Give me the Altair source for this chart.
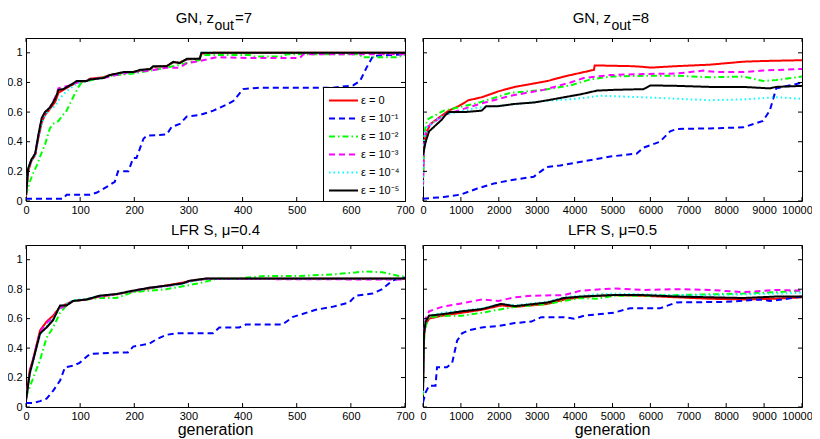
import altair as alt
import pandas as pd

FONT = "Liberation Sans"
LABELS = ["ε = 0", "ε = 10⁻¹", "ε = 10⁻²", "ε = 10⁻³", "ε = 10⁻⁴", "ε = 10⁻⁵"]
COLORS = ["#ff0000", "#0000ff", "#00ff00", "#ff00ff", "#00ffff", "#000000"]
DASHES = [[1, 0], [6, 4], [6, 3, 1.5, 3], [6, 4], [1.5, 3], [1, 0]]

XTICKS_700 = [0, 100, 200, 300, 400, 500, 600, 700]
XTICKS_10K = [0, 1000, 2000, 3000, 4000, 5000, 6000, 7000, 8000, 9000, 10000]
YTICKS = [0, 0.2, 0.4, 0.6, 0.8, 1]

# ---- Panel 1: GN, z_out=7 ----
gn7_x_main = [0, 4, 10, 17, 23, 29, 35, 44, 54, 60, 69, 81, 94, 112, 118, 143, 155, 180, 198, 211, 229, 235, 260, 272, 284, 297, 321, 324, 346, 700]
gn7_black = [0.04, 0.22, 0.28, 0.32, 0.45, 0.56, 0.60, 0.63, 0.69, 0.75, 0.755, 0.78, 0.81, 0.81, 0.82, 0.83, 0.85, 0.87, 0.87, 0.885, 0.89, 0.91, 0.91, 0.94, 0.93, 0.96, 0.96, 1.0, 1.0, 1.0]
gn7_red = [0.03, 0.2, 0.27, 0.31, 0.43, 0.53, 0.58, 0.62, 0.67, 0.73, 0.75, 0.775, 0.80, 0.81, 0.825, 0.835, 0.85, 0.865, 0.87, 0.88, 0.89, 0.905, 0.91, 0.935, 0.935, 0.955, 0.96, 0.995, 1.0, 1.0]
gn7_cyan = [0.04, 0.21, 0.27, 0.31, 0.43, 0.52, 0.58, 0.62, 0.64, 0.68, 0.72, 0.76, 0.79, 0.81, 0.82, 0.83, 0.85, 0.865, 0.87, 0.88, 0.89, 0.905, 0.91, 0.935, 0.935, 0.955, 0.96, 1.0, 1.0, 1.0]
gn7_mag_x = [0, 4, 10, 17, 23, 29, 35, 44, 54, 60, 69, 81, 94, 112, 118, 143, 155, 180, 198, 211, 229, 260, 284, 297, 321, 352, 413, 506, 512, 700]
gn7_mag = [0.04, 0.21, 0.28, 0.32, 0.44, 0.55, 0.60, 0.63, 0.70, 0.76, 0.77, 0.78, 0.80, 0.81, 0.82, 0.83, 0.84, 0.86, 0.87, 0.875, 0.88, 0.90, 0.90, 0.93, 0.945, 0.97, 0.965, 0.965, 0.99, 0.99]
gn7_green_x = [0, 7, 13.5, 20, 26, 35, 44, 50, 60, 66, 75, 87, 97, 103, 137, 167, 198, 229, 260, 284, 321, 324, 413, 420, 475, 481, 617, 620, 685, 700]
gn7_green = [0.04, 0.13, 0.19, 0.24, 0.30, 0.38, 0.49, 0.52, 0.54, 0.57, 0.61, 0.70, 0.77, 0.80, 0.83, 0.85, 0.86, 0.88, 0.90, 0.92, 0.95, 0.985, 0.985, 0.975, 0.975, 0.99, 0.99, 0.97, 0.97, 0.985]
gn7_blue_x = [0, 69, 75, 118, 131, 149, 164, 170, 189, 198, 204, 217, 223, 260, 269, 284, 297, 321, 346, 370, 383, 401, 432, 567, 604, 617, 629, 641, 700]
gn7_blue = [0.016, 0.016, 0.043, 0.043, 0.057, 0.095, 0.13, 0.2, 0.2, 0.29, 0.29, 0.42, 0.44, 0.45, 0.50, 0.52, 0.57, 0.58, 0.61, 0.65, 0.675, 0.755, 0.765, 0.765, 0.78, 0.81, 0.90, 0.98, 0.99]

# ---- Panel 2: GN, z_out=8 ----
gn8_red_x = [0, 30, 100, 200, 460, 680, 940, 1200, 1550, 1990, 2420, 2860, 3290, 3720, 4160, 4510, 4530, 5500, 5820, 6000, 6690, 7570, 8450, 9000, 10000]
gn8_red = [0.15, 0.40, 0.47, 0.52, 0.57, 0.61, 0.64, 0.68, 0.70, 0.74, 0.77, 0.79, 0.81, 0.84, 0.865, 0.885, 0.915, 0.91, 0.905, 0.90, 0.91, 0.92, 0.94, 0.945, 0.95]
gn8_mag_x = [0, 30, 110, 550, 1430, 2300, 3180, 3890, 4240, 4940, 5820, 6690, 7400, 7750, 8450, 8970, 9850, 10000]
gn8_mag = [0.1, 0.42, 0.50, 0.58, 0.65, 0.71, 0.75, 0.80, 0.83, 0.85, 0.857, 0.86, 0.88, 0.87, 0.87, 0.88, 0.89, 0.89]
gn8_green_x = [0, 30, 110, 550, 1430, 2300, 3180, 3890, 4410, 4940, 5820, 6690, 7570, 8450, 8970, 9320, 10000]
gn8_green = [0.1, 0.45, 0.55, 0.61, 0.66, 0.73, 0.75, 0.78, 0.82, 0.84, 0.845, 0.845, 0.835, 0.84, 0.81, 0.816, 0.84]
gn8_cyan_x = [0, 30, 110, 550, 1430, 2300, 3180, 4060, 4680, 5820, 7570, 8450, 9320, 10000]
gn8_cyan = [0.1, 0.42, 0.5, 0.58, 0.63, 0.65, 0.675, 0.69, 0.71, 0.70, 0.68, 0.686, 0.70, 0.69]
gn8_black_x = [0, 70, 160, 330, 500, 590, 680, 1110, 1550, 1670, 1990, 2420, 2940, 3290, 3720, 4160, 4590, 5030, 5820, 6000, 6690, 7570, 8450, 9150, 9320, 10000]
gn8_black = [0.31, 0.40, 0.47, 0.51, 0.55, 0.58, 0.60, 0.60, 0.61, 0.64, 0.64, 0.655, 0.665, 0.68, 0.70, 0.72, 0.745, 0.75, 0.755, 0.78, 0.777, 0.77, 0.77, 0.76, 0.77, 0.777]
gn8_blue_x = [0, 550, 990, 1430, 1870, 2300, 2920, 3100, 3270, 3620, 4060, 4940, 5640, 5820, 6250, 6520, 6690, 7570, 8450, 8970, 9150, 9320, 9850, 10000]
gn8_blue = [0.016, 0.027, 0.043, 0.084, 0.118, 0.14, 0.164, 0.198, 0.23, 0.24, 0.26, 0.30, 0.32, 0.36, 0.40, 0.47, 0.486, 0.49, 0.497, 0.54, 0.61, 0.76, 0.79, 0.80]

# ---- Panel 3: LFR S, mu=0.4 ----
lfr4_x_main = [0, 7, 13.5, 26, 38, 50, 63, 75, 87, 112, 136, 167, 198, 228, 259, 290, 302, 333, 700]
lfr4_black = [0.045, 0.23, 0.32, 0.50, 0.54, 0.59, 0.69, 0.69, 0.72, 0.73, 0.756, 0.767, 0.79, 0.81, 0.824, 0.84, 0.857, 0.873, 0.873]
lfr4_red = [0.05, 0.25, 0.33, 0.52, 0.58, 0.62, 0.68, 0.70, 0.72, 0.73, 0.75, 0.765, 0.785, 0.805, 0.825, 0.845, 0.855, 0.87, 0.87]
lfr4_mag = [0.05, 0.24, 0.33, 0.51, 0.57, 0.61, 0.67, 0.69, 0.72, 0.73, 0.75, 0.765, 0.79, 0.81, 0.82, 0.84, 0.855, 0.87, 0.865]
lfr4_cyan = [0.05, 0.22, 0.31, 0.49, 0.55, 0.60, 0.68, 0.70, 0.725, 0.735, 0.755, 0.765, 0.785, 0.805, 0.82, 0.835, 0.85, 0.87, 0.87]
lfr4_green_x = [0, 13.5, 26, 38, 50, 63, 75, 87, 136, 167, 198, 259, 290, 320, 351, 382, 443, 504, 566, 597, 628, 658, 689, 700]
lfr4_green = [0.068, 0.2, 0.32, 0.47, 0.54, 0.64, 0.69, 0.72, 0.74, 0.74, 0.78, 0.80, 0.82, 0.84, 0.87, 0.87, 0.89, 0.89, 0.90, 0.91, 0.92, 0.915, 0.89, 0.886]
lfr4_blue_x = [0, 13.5, 26, 38, 50, 63, 72, 87, 99, 118, 167, 188, 198, 228, 241, 259, 278, 345, 357, 394, 406, 474, 492, 535, 566, 597, 609, 640, 658, 677, 700]
lfr4_blue = [0.027, 0.027, 0.04, 0.056, 0.11, 0.18, 0.27, 0.28, 0.30, 0.36, 0.37, 0.37, 0.41, 0.43, 0.46, 0.49, 0.50, 0.50, 0.54, 0.54, 0.56, 0.56, 0.61, 0.66, 0.68, 0.71, 0.756, 0.77, 0.80, 0.86, 0.88]

# ---- Panel 4: LFR S, mu=0.5 ----
lfr5_x_main = [0, 26, 70, 160, 500, 1030, 1550, 2070, 2420, 3290, 3720, 4160, 4590, 5030, 5820, 6690, 7570, 8450, 9320, 10000]
lfr5_black = [0.11, 0.50, 0.58, 0.62, 0.63, 0.65, 0.665, 0.70, 0.685, 0.71, 0.74, 0.75, 0.755, 0.76, 0.76, 0.75, 0.745, 0.74, 0.75, 0.75]
lfr5_red = [0.10, 0.48, 0.56, 0.60, 0.62, 0.64, 0.66, 0.69, 0.68, 0.70, 0.73, 0.745, 0.755, 0.76, 0.755, 0.745, 0.735, 0.73, 0.735, 0.745]
lfr5_cyan = [0.10, 0.50, 0.58, 0.62, 0.64, 0.655, 0.67, 0.70, 0.69, 0.715, 0.745, 0.755, 0.765, 0.77, 0.765, 0.76, 0.76, 0.765, 0.77, 0.775]
lfr5_green_x = [0, 26, 70, 160, 680, 1030, 1550, 2420, 3290, 4160, 4590, 5030, 5820, 6690, 7570, 8450, 9320, 10000]
lfr5_green = [0.08, 0.45, 0.55, 0.61, 0.62, 0.62, 0.64, 0.68, 0.70, 0.74, 0.735, 0.755, 0.755, 0.76, 0.765, 0.77, 0.78, 0.79]
lfr5_mag_x = [0, 26, 70, 160, 500, 940, 1550, 1990, 2420, 2860, 3720, 4160, 5030, 5820, 6690, 7570, 8450, 9320, 10000]
lfr5_mag = [0.10, 0.50, 0.60, 0.65, 0.68, 0.70, 0.73, 0.72, 0.745, 0.755, 0.76, 0.79, 0.805, 0.795, 0.80, 0.795, 0.78, 0.795, 0.79]
lfr5_blue_x = [0, 70, 160, 330, 370, 630, 770, 900, 1030, 1200, 1550, 1990, 2420, 2860, 3120, 3720, 3990, 4250, 5030, 5460, 6250, 6690, 8000, 8900, 9150, 9500, 10000]
lfr5_blue = [0.03, 0.10, 0.145, 0.145, 0.27, 0.27, 0.30, 0.45, 0.50, 0.52, 0.54, 0.55, 0.57, 0.58, 0.61, 0.61, 0.60, 0.62, 0.64, 0.67, 0.67, 0.71, 0.714, 0.73, 0.72, 0.73, 0.75]


def build(series):
    rows = []
    for k, (lab, (xs, ys)) in enumerate(zip(LABELS, series)):
        for i, (x, y) in enumerate(zip(xs, ys)):
            rows.append({"series": lab, "x": x, "y": y, "i": i, "k": k})
    return pd.DataFrame(rows)


df1 = build([(gn7_x_main, gn7_red), (gn7_blue_x, gn7_blue), (gn7_green_x, gn7_green),
             (gn7_mag_x, gn7_mag), (gn7_x_main, gn7_cyan), (gn7_x_main, gn7_black)])
df2 = build([(gn8_red_x, gn8_red), (gn8_blue_x, gn8_blue), (gn8_green_x, gn8_green),
             (gn8_mag_x, gn8_mag), (gn8_cyan_x, gn8_cyan), (gn8_black_x, gn8_black)])
df3 = build([(lfr4_x_main, lfr4_red), (lfr4_blue_x, lfr4_blue), (lfr4_green_x, lfr4_green),
             (lfr4_x_main, lfr4_mag), (lfr4_x_main, lfr4_cyan), (lfr4_x_main, lfr4_black)])
df4 = build([(lfr5_x_main, lfr5_red), (lfr5_blue_x, lfr5_blue), (lfr5_green_x, lfr5_green),
             (lfr5_mag_x, lfr5_mag), (lfr5_x_main, lfr5_cyan), (lfr5_x_main, lfr5_black)])


def panel(df, xmax, xticks, W, H, title, ylabels, xtitle, legend):
    xs = alt.Scale(domain=[0, xmax], nice=False, zero=False)
    ys = alt.Scale(domain=[0, 1.1], nice=False)
    if legend:
        leg = alt.Legend(orient="bottom-right", offset=0, title=None,
                         symbolType="M-2,0H2", symbolSize=210, symbolStrokeWidth=2,
                         labelFont=FONT, labelFontSize=11, labelColor="black",
                         strokeColor="black", fillColor="white",
                         padding=5, rowPadding=4, labelOffset=9, symbolOffset=7, labelLimit=200)
    else:
        leg = None
    xaxis = alt.Axis(values=xticks, format="d", ticks=True, tickSize=0, labelPadding=3,
                     labelOverlap=False, labelBound=False, labelFlush=False, grid=False, domain=False,
                     labelFont=FONT, labelFontSize=11, labelColor="black",
                     labelOffset={"condition": {"test": "datum.value == 10000", "value": -5}, "value": 0})
    xenc = alt.X("x:Q", scale=xs, axis=xaxis, title=None)
    yaxis = alt.Axis(values=YTICKS, format="~g", ticks=True, tickSize=0, labelPadding=4,
                     labels=ylabels, grid=False, domain=False, labelFont=FONT,
                     labelFontSize=11, labelColor="black")
    yenc = alt.Y("y:Q", scale=ys, axis=yaxis, title=None)
    lines = alt.Chart(df).mark_line(strokeWidth=2, clip=True).encode(
        x=xenc,
        y=yenc,
        color=alt.Color("series:N", scale=alt.Scale(domain=LABELS, range=COLORS), legend=leg),
        strokeDash=alt.StrokeDash("series:N", scale=alt.Scale(domain=LABELS, range=DASHES), legend=leg),
        order=alt.Order("i:Q"),
    )
    xt = pd.DataFrame({"x": xticks})
    yt = pd.DataFrame({"y": YTICKS})
    tb = alt.Chart(xt).mark_rule(color="black", strokeWidth=1).encode(
        x=xenc, y=alt.value(H), y2=alt.value(H - 4))
    tt = alt.Chart(xt).mark_rule(color="black", strokeWidth=1).encode(
        x=xenc, y=alt.value(0), y2=alt.value(4))
    tl = alt.Chart(yt).mark_rule(color="black", strokeWidth=1).encode(
        y=yenc, x=alt.value(0), x2=alt.value(4))
    tr = alt.Chart(yt).mark_rule(color="black", strokeWidth=1).encode(
        y=yenc, x=alt.value(W), x2=alt.value(W - 4))
    layers = [lines, tb, tt, tl, tr]
    texts = list(title)
    if xtitle:
        texts.append((xtitle, W / 2, H + 28, 16, "center"))
    for (txt, px, py, size, align) in texts:
        layers.append(
            alt.Chart(pd.DataFrame({"t": [txt]})).mark_text(
                align=align, baseline="alphabetic", font=FONT, fontSize=size, color="black"
            ).encode(text="t:N", x=alt.value(px), y=alt.value(py))
        )
    return alt.layer(*layers).properties(width=W, height=H)


W = 379
H1 = 163
H2 = 162

t1 = [("GN, z", W / 2 - 1.5, -15, 15, "right"), ("out", W / 2 - 1, -8, 14, "left"), ("=7", W / 2 + 19.5, -15, 15, "left")]
t2 = [("GN, z", W / 2 - 1.5, -15, 15, "right"), ("out", W / 2 - 1, -8, 14, "left"), ("=8", W / 2 + 19.5, -15, 15, "left")]
t3 = [("LFR S, μ=0.4", W / 2, -10, 15, "center")]
t4 = [("LFR S, μ=0.5", W / 2, -10, 15, "center")]

p1 = panel(df1, 700, XTICKS_700, W, H1, t1, True, None, True)
p2 = panel(df2, 10000, XTICKS_10K, W, H1, t2, False, None, False)
p3 = panel(df3, 700, XTICKS_700, W, H2, t3, True, "generation", False)
p4 = panel(df4, 10000, XTICKS_10K, W, H2, t4, False, "generation", False)

chart = alt.concat(
    p1, p2, p3, p4, columns=2, spacing={"row": 44, "column": 18}, bounds="flush"
).resolve_legend(
    color="independent", strokeDash="independent"
).properties(
    padding={"left": -2, "top": 2, "right": -1, "bottom": 0},
    background="white",
).configure_view(stroke="black", strokeWidth=1)

chart.save("out.html", embed_options={"renderer": "svg", "actions": False})
